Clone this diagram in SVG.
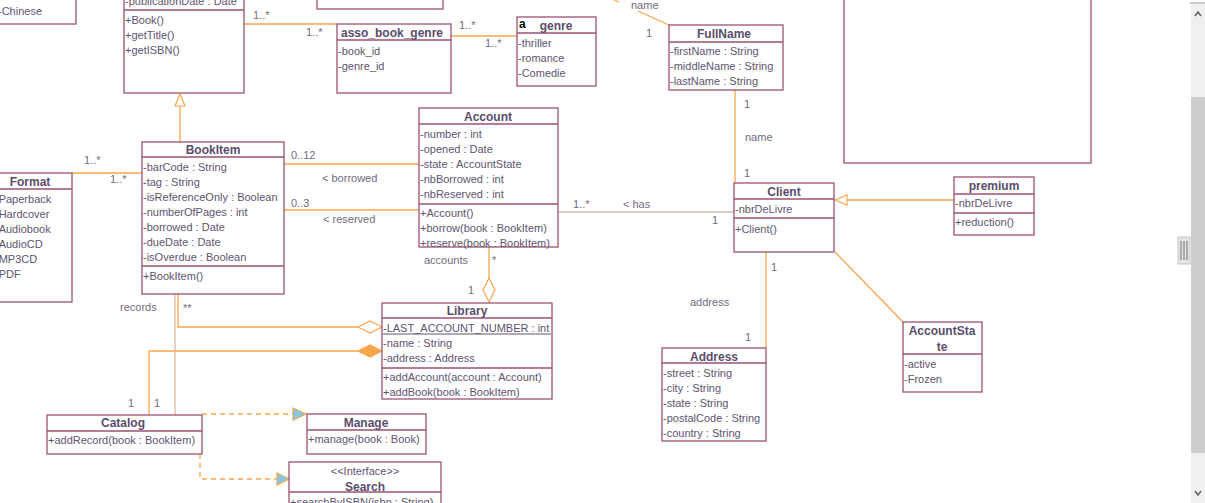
<svg xmlns="http://www.w3.org/2000/svg" width="1205" height="503" viewBox="0 0 1205 503">
<style>
.box{fill:#fff;stroke:#9c5272;stroke-width:1.3}
.div{stroke:#9c5272;stroke-width:1.3}
text{font-family:"Liberation Sans",Arial,sans-serif}
.t{font-size:12px;font-weight:bold;fill:#5a4d6c;text-anchor:middle}
.a{font-size:11px;fill:#5e5470}
.l{font-size:11px;fill:#706b80}
.c{fill:none;stroke:#f8a64c;stroke-width:1.3}
.d{fill:none;stroke:#f8a64c;stroke-width:1.3;stroke-dasharray:5,4}
.hol{fill:#fff;stroke:#f8a64c;stroke-width:1.2}
.fil{fill:#f8a64c;stroke:#f8a64c;stroke-width:1.2}
.blu{fill:#7fc8f0;stroke:#f8a64c;stroke-width:1.2}
</style>
<rect width="1205" height="503" fill="#fff"/>

<g id="connectors">
  <line class="c" x1="244" y1="24" x2="337" y2="24"/>
  <line class="c" x1="451" y1="36" x2="517" y2="36"/>
  <line class="c" x1="610" y1="-2" x2="619" y2="2"/>
  <line class="c" x1="638" y1="11" x2="669" y2="25"/>
  <line class="c" x1="180" y1="106" x2="180" y2="142"/>
  <polygon class="hol" points="180,94 185,106 175,106"/>
  <line class="c" x1="72" y1="173" x2="142" y2="173"/>
  <line class="c" x1="284" y1="164" x2="419" y2="164"/>
  <line class="c" x1="284" y1="210" x2="419" y2="210"/>
  <line class="c" x1="558" y1="212" x2="734" y2="212" style="stroke:#d8b8a0"/>
  <line class="c" x1="735" y1="90" x2="735" y2="183"/>
  <line class="c" x1="954" y1="200" x2="847" y2="200"/>
  <polygon class="hol" points="835,200 847,195 847,205"/>
  <line class="c" x1="766" y1="252" x2="766" y2="348"/>
  <line class="c" x1="835" y1="252" x2="903" y2="322"/>
  <line class="c" x1="489" y1="247" x2="489" y2="278"/>
  <polygon class="hol" points="489,302 495,290 489,278 483,290"/>
  <polyline class="c" points="178,294 178,327 358,327"/>
  <polygon class="hol" points="382,327 370,321 358,327 370,333"/>
  <polyline class="c" points="149,415 149,351 358,351"/>
  <polygon class="fil" points="382,351 370,345 358,351 370,357"/>
  <line class="c" x1="175" y1="294" x2="175" y2="415" style="stroke:#d8b8a0"/>
  <line class="d" x1="202" y1="414" x2="293" y2="414"/>
  <polygon class="blu" points="293,408 306,414 293,420"/>
  <polyline class="d" points="200,454 200,479 277,479"/>
  <polygon class="blu" points="277,473 289,479 277,485"/>

  <text class="l" x="253" y="19">1..*</text>
  <text class="l" x="306" y="36">1..*</text>
  <text class="l" x="459" y="29">1..*</text>
  <text class="l" x="485" y="47">1..*</text>
  <text class="l" x="631" y="9">name</text>
  <text class="l" x="646" y="37">1</text>
  <text class="l" x="84" y="164">1..*</text>
  <text class="l" x="110" y="183">1..*</text>
  <text class="l" x="291" y="159">0..12</text>
  <text class="l" x="322" y="182">&lt; borrowed</text>
  <text class="l" x="291" y="207">0..3</text>
  <text class="l" x="323" y="223">&lt; reserved</text>
  <text class="l" x="573" y="208">1..*</text>
  <text class="l" x="623" y="208">&lt; has</text>
  <text class="l" x="712" y="224">1</text>
  <text class="l" x="744" y="108">1</text>
  <text class="l" x="745" y="141">name</text>
  <text class="l" x="744" y="177">1</text>
  <text class="l" x="771" y="271">1</text>
  <text class="l" x="690" y="306">address</text>
  <text class="l" x="745" y="341">1</text>
  <text class="l" x="424" y="264">accounts</text>
  <text class="l" x="492" y="264">*</text>
  <text class="l" x="468" y="294">1</text>
  <text class="l" x="120" y="311">records</text>
  <text class="l" x="183" y="312">**</text>
  <text class="l" x="128" y="407">1</text>
  <text class="l" x="154" y="407">1</text>
</g>

<g id="n-lang">
  <rect class="box" x="-10" y="-50" width="86" height="74"/>
  <text class="a" x="-2" y="15">-Chinese</text>
</g>

<g id="n-book">
  <rect class="box" x="124" y="-50" width="120" height="143"/>
  <line class="div" x1="124" y1="10" x2="244" y2="10"/>
  <text class="a" x="125" y="5">-publicationDate : Date</text>
  <text class="a" x="125" y="24">+Book()</text>
  <text class="a" x="125" y="39">+getTitle()</text>
  <text class="a" x="125" y="54">+getISBN()</text>
</g>

<g id="n-topmid">
  <rect class="box" x="317" y="-50" width="126" height="59"/>
</g>

<g id="n-asso">
  <rect class="box" x="337" y="24" width="114" height="69"/>
  <line class="div" x1="337" y1="40" x2="451" y2="40"/>
  <text class="t" x="392" y="37">asso_book_genre</text>
  <text class="a" x="338" y="55">-book_id</text>
  <text class="a" x="338" y="70">-genre_id</text>
</g>

<g id="n-genre">
  <rect class="box" x="517" y="17" width="79" height="69"/>
  <line class="div" x1="517" y1="33" x2="596" y2="33"/>
  <text x="519" y="28" style="font-size:12px;font-weight:bold;fill:#000">a</text>
  <text class="t" x="556" y="30">genre</text>
  <text class="a" x="518" y="47">-thriller</text>
  <text class="a" x="518" y="62">-romance</text>
  <text class="a" x="518" y="77">-Comedie</text>
</g>

<g id="n-fullname">
  <rect class="box" x="669" y="25" width="114" height="65"/>
  <line class="div" x1="669" y1="42" x2="783" y2="42"/>
  <text class="t" x="724" y="38">FullName</text>
  <text class="a" x="670" y="55">-firstName : String</text>
  <text class="a" x="670" y="70">-middleName : String</text>
  <text class="a" x="670" y="85">-lastName : String</text>
</g>

<g id="n-panel">
  <rect class="box" x="844" y="-50" width="247" height="213"/>
</g>

<g id="n-format">
  <rect class="box" x="-20" y="173" width="92" height="129"/>
  <line class="div" x1="-20" y1="189" x2="72" y2="189"/>
  <text class="t" x="30" y="186">Format</text>
  <text class="a" x="-5" y="203">-Paperback</text>
  <text class="a" x="-5" y="218">-Hardcover</text>
  <text class="a" x="-5" y="233">-Audiobook</text>
  <text class="a" x="-5" y="248">-AudioCD</text>
  <text class="a" x="-5" y="263">-MP3CD</text>
  <text class="a" x="-5" y="278">-PDF</text>
</g>

<g id="n-bookitem">
  <rect class="box" x="142" y="142" width="142" height="152"/>
  <line class="div" x1="142" y1="157" x2="284" y2="157"/>
  <line class="div" x1="142" y1="266" x2="284" y2="266"/>
  <text class="t" x="213" y="154">BookItem</text>
  <text class="a" x="143" y="171">-barCode : String</text>
  <text class="a" x="143" y="186">-tag : String</text>
  <text class="a" x="143" y="201">-isReferenceOnly : Boolean</text>
  <text class="a" x="143" y="216">-numberOfPages : int</text>
  <text class="a" x="143" y="231">-borrowed : Date</text>
  <text class="a" x="143" y="246">-dueDate : Date</text>
  <text class="a" x="143" y="261">-isOverdue : Boolean</text>
  <text class="a" x="143" y="280">+BookItem()</text>
</g>

<g id="n-account">
  <rect class="box" x="419" y="108" width="139" height="139"/>
  <line class="div" x1="419" y1="124" x2="558" y2="124"/>
  <line class="div" x1="419" y1="204" x2="558" y2="204"/>
  <text class="t" x="488" y="121">Account</text>
  <text class="a" x="420" y="138">-number : int</text>
  <text class="a" x="420" y="153">-opened : Date</text>
  <text class="a" x="420" y="168">-state : AccountState</text>
  <text class="a" x="420" y="183">-nbBorrowed : int</text>
  <text class="a" x="420" y="198">-nbReserved : int</text>
  <text class="a" x="420" y="217">+Account()</text>
  <text class="a" x="420" y="232">+borrow(book : BookItem)</text>
  <text class="a" x="420" y="247">+reserve(book : BookItem)</text>
</g>

<g id="n-client">
  <rect class="box" x="734" y="183" width="100" height="69"/>
  <line class="div" x1="734" y1="199" x2="834" y2="199"/>
  <line class="div" x1="734" y1="218" x2="834" y2="218"/>
  <text class="t" x="784" y="196">Client</text>
  <text class="a" x="735" y="213">-nbrDeLivre</text>
  <text class="a" x="735" y="233">+Client()</text>
</g>

<g id="n-premium">
  <rect class="box" x="954" y="177" width="80" height="58"/>
  <line class="div" x1="954" y1="194" x2="1034" y2="194"/>
  <line class="div" x1="954" y1="213" x2="1034" y2="213"/>
  <text class="t" x="994" y="190">premium</text>
  <text class="a" x="955" y="207">-nbrDeLivre</text>
  <text class="a" x="955" y="226">+reduction()</text>
</g>

<g id="n-library">
  <rect class="box" x="382" y="303" width="170" height="96"/>
  <line class="div" x1="382" y1="318" x2="552" y2="318"/>
  <line class="div" x1="382" y1="368" x2="552" y2="368"/>
  <text class="t" x="467" y="315">Library</text>
  <text class="a" x="383" y="332">-LAST_ACCOUNT_NUMBER : int</text>
  <line x1="383" y1="334" x2="551" y2="334" stroke="#5e5470" stroke-width="1"/>
  <text class="a" x="383" y="347">-name : String</text>
  <text class="a" x="383" y="362">-address : Address</text>
  <text class="a" x="383" y="381">+addAccount(account : Account)</text>
  <text class="a" x="383" y="396">+addBook(book : BookItem)</text>
</g>

<g id="n-address">
  <rect class="box" x="662" y="348" width="104" height="93"/>
  <line class="div" x1="662" y1="363" x2="766" y2="363"/>
  <text class="t" x="714" y="361">Address</text>
  <text class="a" x="663" y="377">-street : String</text>
  <text class="a" x="663" y="392">-city : String</text>
  <text class="a" x="663" y="407">-state : String</text>
  <text class="a" x="663" y="422">-postalCode : String</text>
  <text class="a" x="663" y="437">-country : String</text>
</g>

<g id="n-accountstate">
  <rect class="box" x="903" y="322" width="79" height="70"/>
  <line class="div" x1="903" y1="354" x2="982" y2="354"/>
  <text class="t" x="942" y="335">AccountSta</text>
  <text class="t" x="942" y="351">te</text>
  <text class="a" x="904" y="368">-active</text>
  <text class="a" x="904" y="383">-Frozen</text>
</g>

<g id="n-catalog">
  <rect class="box" x="47" y="415" width="155" height="39"/>
  <line class="div" x1="47" y1="431" x2="202" y2="431"/>
  <text class="t" x="123" y="427">Catalog</text>
  <text class="a" x="48" y="444">+addRecord(book : BookItem)</text>
</g>

<g id="n-manage">
  <rect class="box" x="307" y="414" width="119" height="40"/>
  <line class="div" x1="307" y1="430" x2="426" y2="430"/>
  <text class="t" x="366" y="427">Manage</text>
  <text class="a" x="308" y="443">+manage(book : Book)</text>
</g>

<g id="n-search">
  <rect class="box" x="289" y="462" width="152" height="60"/>
  <line class="div" x1="289" y1="492" x2="441" y2="492"/>
  <text class="a" x="365" y="475" text-anchor="middle">&lt;&lt;Interface&gt;&gt;</text>
  <text class="t" x="365" y="491">Search</text>
  <text class="a" x="290" y="506">+searchByISBN(isbn : String)</text>
</g>

<g id="scrollbar">
  <rect x="1191" y="3" width="14" height="500" fill="#f0f0f0"/>
  <line x1="1190" y1="3" x2="1205" y2="3" stroke="#a0a0a0" stroke-width="1"/>
  <rect x="1191" y="97" width="14" height="356" fill="#cdcdcd"/>
  <polyline points="1195,16 1198,12 1201,16" fill="none" stroke="#606060" stroke-width="1.5"/>
  <polyline points="1195,491 1198,495 1201,491" fill="none" stroke="#606060" stroke-width="1.5"/>
  <rect x="1178" y="237" width="12" height="27" fill="#e4e4e4" stroke="#c8c8c8" stroke-width="1"/>
  <line x1="1181" y1="241" x2="1181" y2="260" stroke="#707070" stroke-width="1"/>
  <line x1="1184" y1="241" x2="1184" y2="260" stroke="#707070" stroke-width="1"/>
  <line x1="1187" y1="241" x2="1187" y2="260" stroke="#707070" stroke-width="1"/>
</g>
</svg>
